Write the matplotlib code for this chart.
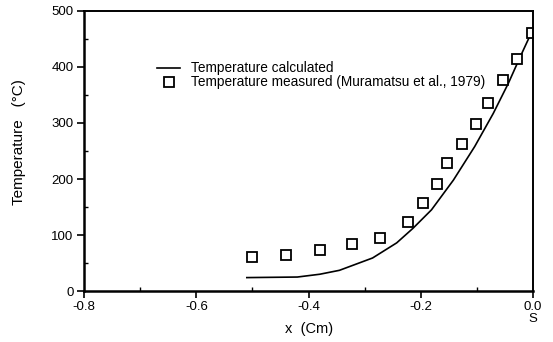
import matplotlib
matplotlib.use("Agg")
import matplotlib.pyplot as plt
from matplotlib.ticker import MultipleLocator

plt.rcParams['font.family'] = ['Liberation Sans', 'DejaVu Sans']

# calculated temperature curve
x_calc = [-0.51, -0.42, -0.38, -0.345, -0.286, -0.243, -0.214, -0.181, -0.142,
          -0.104, -0.071, -0.044, -0.023, -0.005, 0.0]
t_calc = [24, 25, 30, 37, 59, 86, 112, 145, 198, 258, 317, 371, 418, 457, 465]

# measured points (Muramatsu et al., 1979)
x_meas = [-0.50, -0.44, -0.38, -0.322, -0.273, -0.223, -0.196, -0.172, -0.154,
          -0.127, -0.102, -0.080, -0.054, -0.028, -0.002]
t_meas = [60, 65, 73, 84, 95, 123, 158, 191, 228, 262, 299, 335, 377, 415, 460]

x_ticks = [-0.8, -0.6, -0.4, -0.2, 0.0]
x_tick_labels = ['-0.8', '-0.6', '-0.4', '-0.2', '0.0']
y_ticks = [0, 100, 200, 300, 400, 500]

fig = plt.figure(figsize=(5.53, 3.42), dpi=100)
ax = fig.add_axes([0.152, 0.149, 0.812, 0.819])

ax.plot(x_calc, t_calc, color='black', lw=1.2, label='Temperature calculated')
ax.plot(x_meas, t_meas, ls='none', marker='s', ms=6.5, mfc='white', mec='black',
        mew=1.3, label='Temperature measured (Muramatsu et al., 1979)')

ax.set_xlim(-0.8, 0.0)
ax.set_ylim(0, 500)
ax.set_xticks(x_ticks)
ax.set_xticklabels(x_tick_labels)
ax.set_yticks(y_ticks)
ax.xaxis.set_minor_locator(MultipleLocator(0.1))
ax.yaxis.set_minor_locator(MultipleLocator(50))
ax.tick_params(which='major', direction='out', length=5, width=1.2, labelsize=9.5, pad=2.5)
ax.tick_params(which='minor', direction='in', length=3, width=1)

for side in ['left', 'bottom']:
    ax.spines[side].set_linewidth(1.8)
for side in ['right', 'top']:
    ax.spines[side].set_linewidth(1.4)

ax.set_xlabel('x  (Cm)', fontsize=10.5)
ax.xaxis.set_label_coords(0.5, -0.112)
ax.set_ylabel('Temperature   (°C)', fontsize=11)
ax.yaxis.set_label_coords(-0.13, 0.532)
ax.text(0.0, -0.1, 'S', transform=ax.get_xaxis_transform(), ha='center', va='center',
        fontsize=9.5)

ax.legend(loc='upper left', bbox_to_anchor=(0.163, 0.82), frameon=False,
          fontsize=9.8, handlelength=1.7, handletextpad=0.75, labelspacing=0.0,
          borderpad=0.0, borderaxespad=0.0)

fig.savefig('out.png', dpi=100)
